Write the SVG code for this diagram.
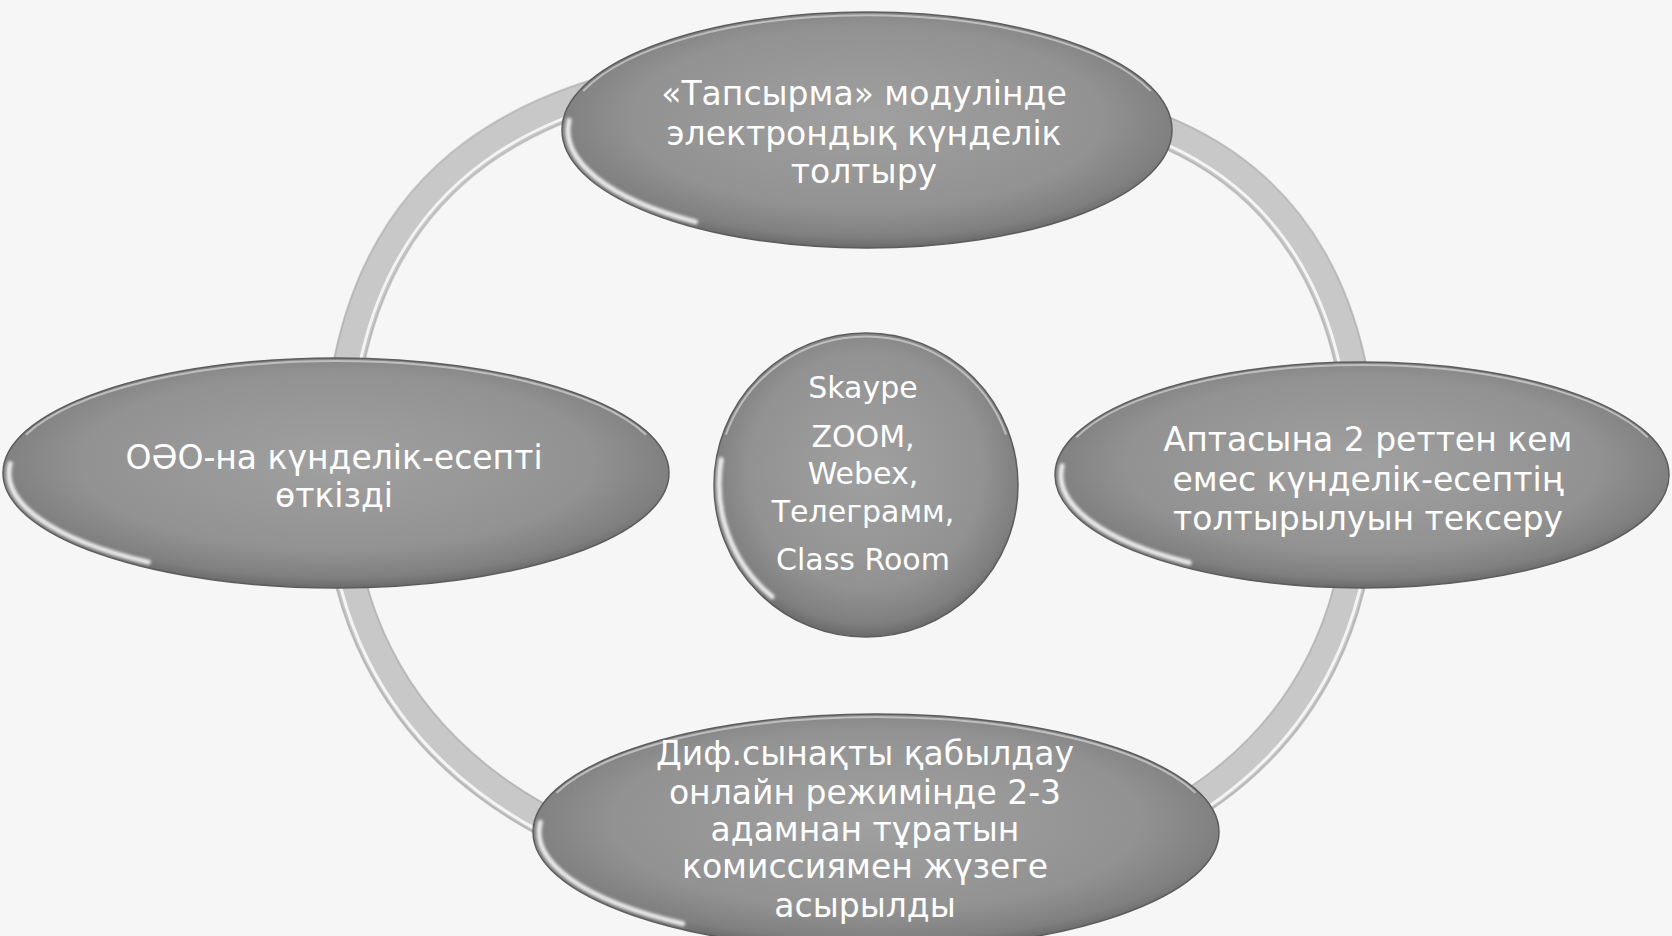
<svg xmlns="http://www.w3.org/2000/svg" width="1672" height="936" viewBox="0 0 1672 936">
<defs>
<radialGradient id="nodeFill" cx="50%" cy="45%" r="55%">
<stop offset="0" stop-color="#a0a0a0"/>
<stop offset="0.7" stop-color="#929292"/>
<stop offset="0.92" stop-color="#7f7f7f"/>
<stop offset="1" stop-color="#6a6a6a"/>
</radialGradient>
<filter id="soft" x="-10%" y="-10%" width="120%" height="120%"><feGaussianBlur stdDeviation="1.4"/></filter>
</defs>
<style>
.bg{fill:#f6f6f6}
.node{fill:url(#nodeFill);stroke:#5c5c5c;stroke-width:1.5}
.hl{fill:none;stroke:#ffffff;stroke-width:5;stroke-linecap:round;opacity:.85;filter:url(#soft)}
.rim{fill:none;stroke:#d4d4d4;stroke-width:2;opacity:.7}
.t{font-family:"DejaVu Sans","Liberation Sans",sans-serif;font-size:33px;fill:#ffffff;text-anchor:middle}
.c{font-size:30px}
.ring{fill:none;stroke:#c8c8c8;stroke-width:31}
.ringedge{fill:none;stroke:#a9a9a9;stroke-width:2;opacity:.6}
.ringhl{fill:none;stroke:#ffffff;stroke-width:3;opacity:.8}
</style>
<rect class="bg" x="0" y="0" width="1672" height="936"/>
<g id="connectors">
<path class="ring" d="M338 478 C338 165 539 62 850 62 C1000 62 1072 90 1172 135 C1290 188 1362 300 1362 478 C1362 760 1135 890 850 890 C565 890 338 746 338 478 Z"/>
<path class="ringedge" transform="translate(850 478) scale(1.029 1.036) translate(-850 -478)" d="M338 478 C338 165 539 62 850 62 C1000 62 1072 90 1172 135 C1290 188 1362 300 1362 478 C1362 760 1135 890 850 890 C565 890 338 746 338 478 Z"/>
<path class="ringedge" transform="translate(850 478) scale(0.971 0.964) translate(-850 -478)" d="M338 478 C338 165 539 62 850 62 C1000 62 1072 90 1172 135 C1290 188 1362 300 1362 478 C1362 760 1135 890 850 890 C565 890 338 746 338 478 Z"/>
<path class="ringhl" transform="translate(850 478) scale(0.979 0.974) translate(-850 -478)" d="M338 478 C338 165 539 62 850 62 C1000 62 1072 90 1172 135 C1290 188 1362 300 1362 478"/>
<path class="ringhl" transform="translate(850 478) scale(1.021 1.027) translate(-850 -478)" d="M1362 478 C1362 760 1135 890 850 890 C565 890 338 746 338 478"/>
</g>
<g id="node-top">
<ellipse class="node" cx="867" cy="130" rx="305" ry="118"/>
<path class="rim" d="M583.2 91 A302 115 0 0 1 1150.8 91"/>
<path class="hl" d="M569.1 120.3 A299 112 0 0 0 695.5 221.9"/>
<text class="t" x="864" y="105">«Тапсырма» модулінде</text>
<text class="t" x="864" y="145">электрондық күнделік</text>
<text class="t" x="864" y="183">толтыру</text>
</g>
<g id="node-left">
<ellipse class="node" cx="336" cy="473" rx="333" ry="115"/>
<path class="rim" d="M25.9 434.7 A330 112 0 0 1 646.1 434.7"/>
<path class="hl" d="M10.2 463.5 A327 109 0 0 0 148.4 562.3"/>
<text class="t" x="334" y="469">ОӘО-на күнделік-есепті</text>
<text class="t" x="334" y="507">өткізді</text>
</g>
<g id="node-right">
<ellipse class="node" cx="1362" cy="475" rx="307" ry="113"/>
<path class="rim" d="M1076.3 437.4 A304 110 0 0 1 1647.7 437.4"/>
<path class="hl" d="M1062.1 465.7 A301 107 0 0 0 1189.3 562.7"/>
<text class="t" x="1368" y="451">Аптасына 2 реттен кем</text>
<text class="t" x="1368" y="491">емес күнделік-есептің</text>
<text class="t" x="1368" y="530">толтырылуын тексеру</text>
</g>
<g id="node-bottom">
<ellipse class="node" cx="876" cy="832" rx="343" ry="118"/>
<path class="rim" d="M556.5 792.7 A340 115 0 0 1 1195.5 792.7"/>
<path class="hl" d="M540.3 822.2 A337 112 0 0 0 682.7 923.7"/>
<text class="t" x="865" y="765">Диф.сынақты қабылдау</text>
<text class="t" x="865" y="804">онлайн режимінде 2-3</text>
<text class="t" x="865" y="841">адамнан тұратын</text>
<text class="t" x="865" y="878">комиссиямен жүзеге</text>
<text class="t" x="865" y="917">асырылды</text>
</g>
<g id="node-center">
<circle class="node" cx="866" cy="485" r="152"/>
<path class="rim" d="M725.9 434.7 A149 149 0 0 1 1006.1 434.7"/>
<path class="hl" d="M721.2 459.5 A146 146 0 0 0 772.2 596.8"/>
<text class="t c" x="863" y="398">Skaype</text>
<text class="t c" x="863" y="447">ZOOM,</text>
<text class="t c" x="863" y="484">Webex,</text>
<text class="t c" x="863" y="522">Телеграмм,</text>
<text class="t c" x="863" y="570">Class Room</text>
</g>
</svg>
